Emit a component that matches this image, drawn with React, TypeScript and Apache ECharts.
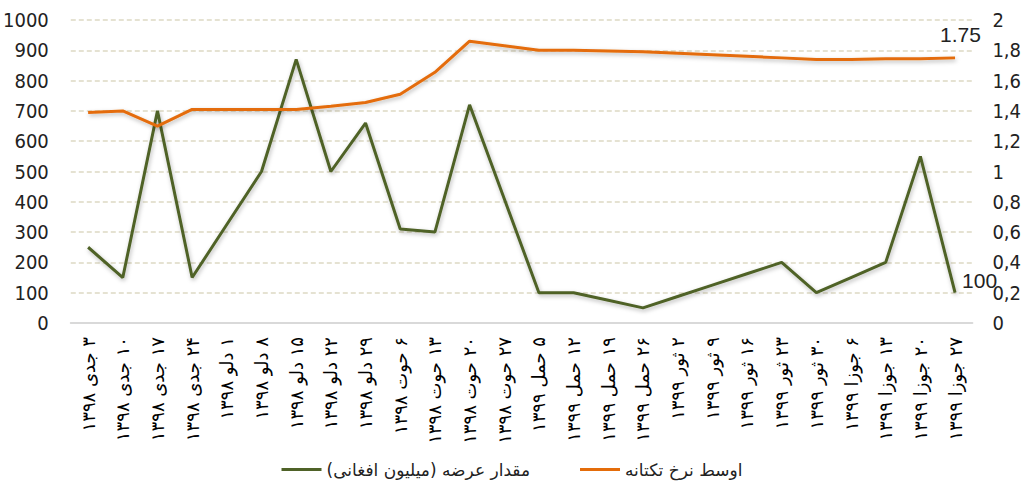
import React, { useEffect, useRef } from 'react';
import * as echarts from 'echarts';

const categories = [
  '۳ جدی ۱۳۹۸', '۱۰ جدی ۱۳۹۸', '۱۷ جدی ۱۳۹۸', '۲۴ جدی ۱۳۹۸',
  '۱ دلو ۱۳۹۸', '۸ دلو ۱۳۹۸', '۱۵ دلو ۱۳۹۸', '۲۲ دلو ۱۳۹۸', '۲۹ دلو ۱۳۹۸',
  '۶ حوت ۱۳۹۸', '۱۳ حوت ۱۳۹۸', '۲۰ حوت ۱۳۹۸', '۲۷ حوت ۱۳۹۸',
  '۵ حمل ۱۳۹۹', '۱۲ حمل ۱۳۹۹', '۱۹ حمل ۱۳۹۹', '۲۶ حمل ۱۳۹۹',
  '۲ ثور ۱۳۹۹', '۹ ثور ۱۳۹۹', '۱۶ ثور ۱۳۹۹', '۲۳ ثور ۱۳۹۹', '۳۰ ثور ۱۳۹۹',
  '۶ جوزا ۱۳۹۹', '۱۳ جوزا ۱۳۹۹', '۲۰ جوزا ۱۳۹۹', '۲۷ جوزا ۱۳۹۹',
];

const supplyName = 'مقدار عرضه (میلیون افغانی)';
const rateName = 'اوسط نرخ تکتانه';

const supplyValues = [
  250, 150, 700, 150, 325, 500, 870, 500, 660, 310, 300, 720, 410,
  100, 100, 75, 50, 87.5, 125, 162.5, 200, 100, 150, 200, 550, 100,
];

const rateValues = [
  1.39, 1.40, 1.30, 1.41, 1.41, 1.41, 1.41, 1.43, 1.455, 1.51, 1.655, 1.86, 1.83,
  1.80, 1.80, 1.795, 1.79, 1.78, 1.77, 1.76, 1.75, 1.74, 1.74, 1.745, 1.745, 1.75,
];

const RLM = '\u200F';
const rtl = (s: string) => RLM + s + RLM;

const narrowFont = "'DejaVu Sans Condensed', 'Liberation Sans Narrow', 'Arial Narrow', sans-serif";
const arabicFont = "'DejaVu Sans', 'Noto Sans', sans-serif";

export default function App() {
  const ref = useRef<HTMLDivElement>(null);

  useEffect(() => {
    document.body.style.margin = '0';
    const chart = echarts.init(ref.current as HTMLDivElement, null, { renderer: 'svg' });
    const shadow = {
      shadowColor: 'rgba(0,0,0,0.28)',
      shadowBlur: 4,
      shadowOffsetX: 1,
      shadowOffsetY: 2,
    };
    chart.setOption({
      animation: false,
      backgroundColor: '#ffffff',
      grid: { left: 68, right: 49, top: 20, bottom: 161 },
      legend: {
        top: 456,
        left: 'center',
        icon: 'rect',
        itemWidth: 40,
        itemHeight: 3,
        itemGap: 50,
        data: [supplyName, rateName],
        formatter: (n: string) => rtl(n),
        textStyle: { fontFamily: arabicFont, fontSize: 17, color: '#222' },
      },
      xAxis: {
        type: 'category',
        data: categories,
        boundaryGap: true,
        axisTick: { show: false },
        axisLine: { lineStyle: { color: '#d9d9d9', width: 2 } },
        axisLabel: {
          interval: 0,
          rotate: 90,
          margin: 14,
          fontFamily: arabicFont,
          fontSize: 18,
          color: '#000',
          formatter: (v: string) => rtl(v),
        },
      },
      yAxis: [
        {
          type: 'value',
          min: 0,
          max: 1000,
          interval: 100,
          position: 'left',
          axisLine: { show: false },
          axisTick: { show: false },
          splitLine: { lineStyle: { color: '#ddd9c3', type: [5, 3], width: 1.5 } },
          axisLabel: {
            margin: 22,
            fontFamily: narrowFont,
            fontSize: 20,
            color: '#222',
            padding: [0, 0, 6, 0],
            formatter: (v: number) => String(v),
          },
        },
        {
          type: 'value',
          min: 0,
          max: 2,
          interval: 0.2,
          position: 'right',
          axisLine: { show: false },
          axisTick: { show: false },
          splitLine: { show: false },
          axisLabel: {
            margin: 20,
            fontFamily: narrowFont,
            fontSize: 20,
            color: '#222',
            padding: [0, 0, 6, 0],
            formatter: (v: number) => (Math.round(v * 10) / 10).toString().replace('.', ','),
          },
        },
      ],
      series: [
        {
          name: supplyName,
          type: 'line',
          yAxisIndex: 0,
          data: supplyValues,
          showSymbol: false,
          symbol: 'none',
          itemStyle: { color: '#4f6228' },
          lineStyle: { color: '#4f6228', width: 3, ...shadow },
          endLabel: {
            show: true,
            formatter: '{c}',
            distance: 7,
            offset: [0, -12],
            fontFamily: "'Liberation Sans', Arial, sans-serif",
            fontSize: 21,
            color: '#222',
          },
        },
        {
          name: rateName,
          type: 'line',
          yAxisIndex: 1,
          data: rateValues,
          showSymbol: false,
          symbol: 'none',
          itemStyle: { color: '#e46c0a' },
          lineStyle: { color: '#e46c0a', width: 3, ...shadow },
          endLabel: {
            show: true,
            formatter: '{c}',
            distance: 5,
            offset: [-20, -23],
            fontFamily: "'Liberation Sans', Arial, sans-serif",
            fontSize: 21,
            color: '#222',
          },
        },
      ],
    });
    return () => chart.dispose();
  }, []);

  return <div ref={ref} style={{ width: 1024, height: 484 }} />;
}
